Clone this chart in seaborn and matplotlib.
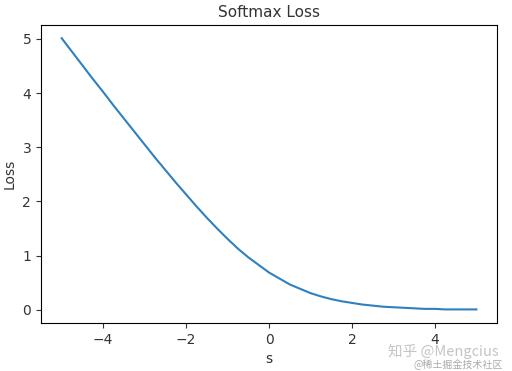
import matplotlib
matplotlib.use("Agg")
import matplotlib.pyplot as plt
import seaborn as sns
import pandas as pd

s_values = [-5.0, -4.75, -4.5, -4.25, -4.0, -3.75, -3.5, -3.25, -3.0, -2.75,
            -2.5, -2.25, -2.0, -1.75, -1.5, -1.25, -1.0, -0.75, -0.5, -0.25,
            0.0, 0.25, 0.5, 0.75, 1.0, 1.25, 1.5, 1.75, 2.0, 2.25,
            2.5, 2.75, 3.0, 3.25, 3.5, 3.75, 4.0, 4.25, 4.5, 4.75, 5.0]
loss_values = [5.01, 4.76, 4.51, 4.26, 4.02, 3.77, 3.53, 3.29, 3.05, 2.81,
               2.58, 2.35, 2.13, 1.91, 1.70, 1.50, 1.31, 1.13, 0.97, 0.83,
               0.69, 0.58, 0.47, 0.39, 0.31, 0.25, 0.20, 0.16, 0.13, 0.10,
               0.08, 0.06, 0.05, 0.04, 0.03, 0.02, 0.02, 0.01, 0.01, 0.01, 0.01]

df = pd.DataFrame({"s": s_values, "Loss": loss_values})

plt.rcParams['font.family'] = ['DejaVu Sans']
fig = plt.figure(figsize=(5.12, 3.71), dpi=100)
ax = fig.add_axes([0.080, 0.129, 0.891, 0.804])
sns.lineplot(data=df, x="s", y="Loss", ax=ax, color="#2f80c0", linewidth=1.5)
ax.set_title("Softmax Loss", fontsize=11, color="#333333")
ax.set_xlabel("s", fontsize=10, color="#333333")
ax.set_ylabel("Loss", fontsize=10, color="#333333")
ax.set_xticks([-4, -2, 0, 2, 4])
ax.set_yticks([0, 1, 2, 3, 4, 5])
ax.tick_params(labelsize=10, colors="#333333")
ax.set_xlim(-5.5, 5.5)
ax.set_ylim(-0.243, 5.257)

fig.text(0.758, 0.040, "知乎 @Mengcius", fontsize=10.5, color="#c4c4c4",
         family=['Noto Sans CJK SC', 'DejaVu Sans'])
fig.text(0.808, 0.008, "@稀土掘金技术社区", fontsize=7.2, color="#aaaaaa",
         family=['Noto Sans CJK SC', 'DejaVu Sans'])

fig.savefig("out.png", dpi=100)
